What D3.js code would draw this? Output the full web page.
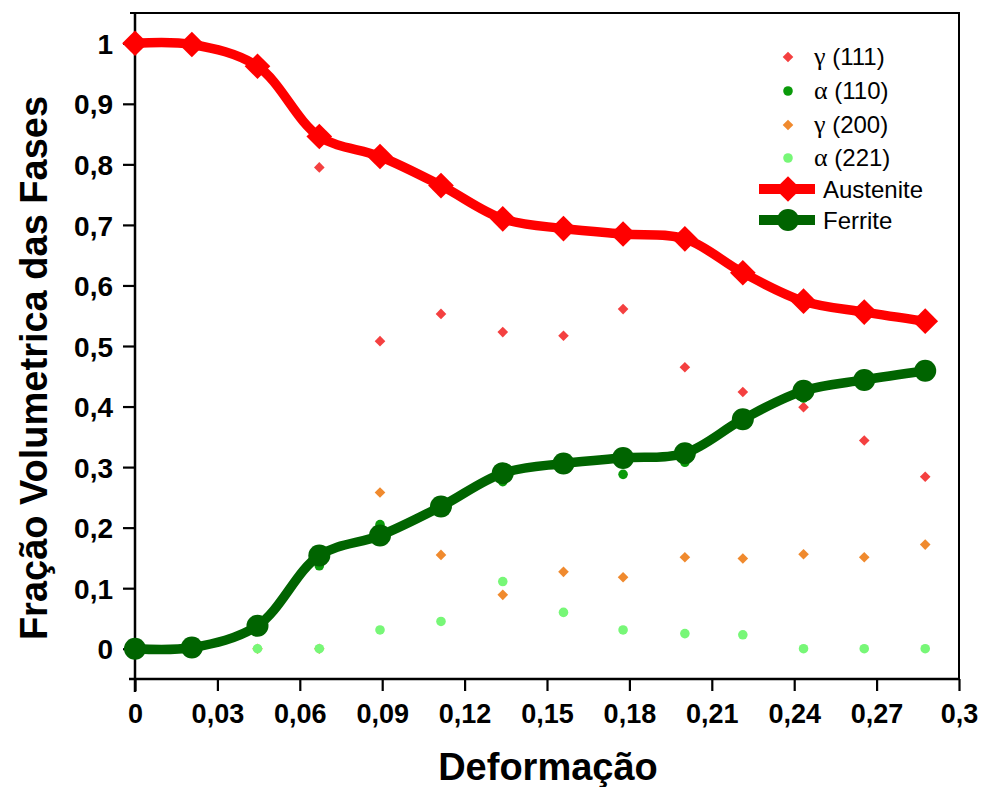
<!DOCTYPE html>
<html><head><meta charset="utf-8">
<script src="https://cdn.jsdelivr.net/npm/d3@7"></script>
<style>body{margin:0;background:#fff}svg{display:block}</style>
</head><body>
<svg id="c" width="981" height="787"></svg>
<script>
const deformation = [0, 0.0207, 0.0446, 0.0671, 0.0892, 0.1114, 0.1339, 0.156, 0.1777, 0.2002, 0.2213, 0.2434, 0.2655, 0.2877];
const austenite = [1.0, 0.998, 0.962, 0.846, 0.813, 0.765, 0.710, 0.694, 0.685, 0.677, 0.621, 0.574, 0.556, 0.541];
const ferrite   = [0.0, 0.002, 0.038, 0.154, 0.187, 0.235, 0.290, 0.306, 0.315, 0.323, 0.379, 0.426, 0.444, 0.459];
const gamma111  = [1.0, 0.998, 0.962, 0.795, 0.508, 0.553, 0.523, 0.517, 0.561, 0.465, 0.424, 0.399, 0.344, 0.284];
const alpha110  = [0.0, 0.002, 0.038, 0.137, 0.205, 0.235, 0.276, 0.306, 0.288, 0.308, 0.379, 0.414, 0.444, 0.459];
const gamma200  = [0.0, 0.0, 0.0, 0.0, 0.258, 0.155, 0.089, 0.127, 0.118, 0.151, 0.149, 0.156, 0.151, 0.172];
const alpha221  = [0.0, 0.0, 0.0, 0.0, 0.031, 0.045, 0.111, 0.060, 0.031, 0.025, 0.023, 0.0, 0.0, 0.0];
const xTicks = [0, 0.03, 0.06, 0.09, 0.12, 0.15, 0.18, 0.21, 0.24, 0.27, 0.3];
const yTicks = [0, 0.1, 0.2, 0.3, 0.4, 0.5, 0.6, 0.7, 0.8, 0.9, 1];
const seriesGreek = ["γ", "α", "γ", "α"];
const seriesPlanes = ["(111)", "(110)", "(200)", "(221)"];
const lineNames = ["Austenite", "Ferrite"];

const svg = d3.select("#c");
const L = 135, R = 959, T = 13, B = 679;
const x = d3.scaleLinear().domain([0, 0.3]).range([L, R]);
const y = d3.scaleLinear().domain([-0.05, 1.05]).range([B, T]);
const fmt = v => String(+v.toFixed(2)).replace(".", ",");
const font = "'Liberation Sans', Arial, sans-serif";

// frame
svg.append("line").attr("x1", R).attr("x2", R).attr("y1", T).attr("y2", B).attr("stroke", "#000").attr("stroke-width", 2);
svg.append("line").attr("x1", L - 5).attr("x2", R + 1).attr("y1", T).attr("y2", T).attr("stroke", "#000").attr("stroke-width", 2);

// x axis
const xMinor = d3.range(0, 0.3001, 0.015);
const gx = svg.append("g").attr("transform", `translate(0,${B})`);
gx.call(d3.axisBottom(x).tickValues(xMinor).tickSize(6).tickFormat(""));
gx.call(d3.axisBottom(x).tickValues(xTicks).tickSize(12).tickFormat(fmt));
gx.selectAll(".domain").remove();
gx.selectAll("line").attr("stroke-width", 2.2);
gx.selectAll("text").attr("font-family", font).attr("font-weight", "bold").attr("font-size", 27).attr("dy", "1.08em").attr("fill", "#000");
svg.append("line").attr("x1", L - 6).attr("x2", R + 1).attr("y1", B).attr("y2", B).attr("stroke", "#000").attr("stroke-width", 2.5);

// y axis
const yMinor = d3.range(-0.05, 1.0501, 0.05);
const gy = svg.append("g").attr("transform", `translate(${L},0)`);
gy.call(d3.axisLeft(y).tickValues(yMinor).tickSize(6).tickFormat(""));
gy.call(d3.axisLeft(y).tickValues(yTicks).tickSize(12).tickFormat(fmt));
gy.selectAll(".domain").remove();
gy.selectAll("line").attr("stroke-width", 2.2);
gy.selectAll("text").attr("font-family", font).attr("font-weight", "bold").attr("font-size", 28).attr("dx", "-7").attr("dy", "0.36em").attr("fill", "#000");
svg.append("line").attr("x1", L).attr("x2", L).attr("y1", T - 1).attr("y2", B + 13).attr("stroke", "#000").attr("stroke-width", 2.5);

// titles
svg.append("text").attr("x", 548).attr("y", 780).attr("text-anchor", "middle")
  .attr("font-family", font).attr("font-weight", "bold").attr("font-size", 38).text("Deformação");
svg.append("text").attr("transform", `translate(47,${368}) rotate(-90)`).attr("text-anchor", "middle")
  .attr("font-family", font).attr("font-weight", "bold").attr("font-size", 38).text("Fração Volumetrica das Fases");

const diamond = d3.symbol().type(d3.symbolDiamond2);
const circle = d3.symbol().type(d3.symbolCircle);
const plot = svg.append("g");
function scatter(vals, kind, color, size) {
  plot.append("g").selectAll("path").data(vals).join("path")
    .attr("transform", (d, i) => `translate(${x(deformation[i])},${y(d)})`)
    .attr("d", kind === "d" ? diamond.size(size)() : circle.size(size)())
    .attr("fill", color);
}
const cG111 = "#f44040", cA110 = "#0a9a0a", cG200 = "#f08a2e", cA221 = "#77f777";
scatter(gamma111, "d", cG111, 72);
scatter(alpha110, "c", cA110, 72);
scatter(gamma200, "d", cG200, 72);
scatter(alpha221, "c", cA221, 72);

const line = d3.line().x((d, i) => x(deformation[i])).y(d => y(d)).curve(d3.curveCatmullRom.alpha(0.5));
function lineSeries(vals, color, kind) {
  plot.append("path").datum(vals).attr("d", line).attr("fill", "none").attr("stroke", color).attr("stroke-width", 9.5).attr("stroke-linejoin", "round");
  plot.append("g").selectAll("path").data(vals).join("path")
    .attr("transform", (d, i) => `translate(${x(deformation[i])},${y(d)})`)
    .attr("d", kind === "d" ? diamond.size(420)() : circle.size(380)())
    .attr("fill", color);
}
lineSeries(austenite, "#ff0000", "d");
lineSeries(ferrite, "#006400", "c");

// legend
const lg = svg.append("g");
const smallRows = [
  {i: 0, kind: "d", color: cG111, y: 57},
  {i: 1, kind: "c", color: cA110, y: 91},
  {i: 2, kind: "d", color: cG200, y: 125},
  {i: 3, kind: "c", color: cA221, y: 158}
];
smallRows.forEach(r => {
  lg.append("path").attr("transform", `translate(788,${r.y})`)
    .attr("d", r.kind === "d" ? diamond.size(72)() : circle.size(72)()).attr("fill", r.color);
  const t = lg.append("text").attr("x", 814).attr("y", r.y + 8).attr("font-family", font).attr("font-size", 24);
  t.append("tspan").attr("font-family", "'Liberation Serif', 'DejaVu Serif', serif").attr("font-size", 26).text(seriesGreek[r.i]);
  t.append("tspan").text(" " + seriesPlanes[r.i]);
});
const bigRows = [
  {i: 0, kind: "d", color: "#ff0000", y: 189},
  {i: 1, kind: "c", color: "#006400", y: 220}
];
bigRows.forEach(r => {
  lg.append("line").attr("x1", 759).attr("x2", 815).attr("y1", r.y).attr("y2", r.y).attr("stroke", r.color).attr("stroke-width", 10);
  lg.append("path").attr("transform", `translate(788,${r.y})`)
    .attr("d", r.kind === "d" ? diamond.size(420)() : circle.size(380)()).attr("fill", r.color);
  lg.append("text").attr("x", 823).attr("y", r.y + 9).attr("font-family", font).attr("font-size", 24).text(lineNames[r.i]);
});
</script>
</body></html>
